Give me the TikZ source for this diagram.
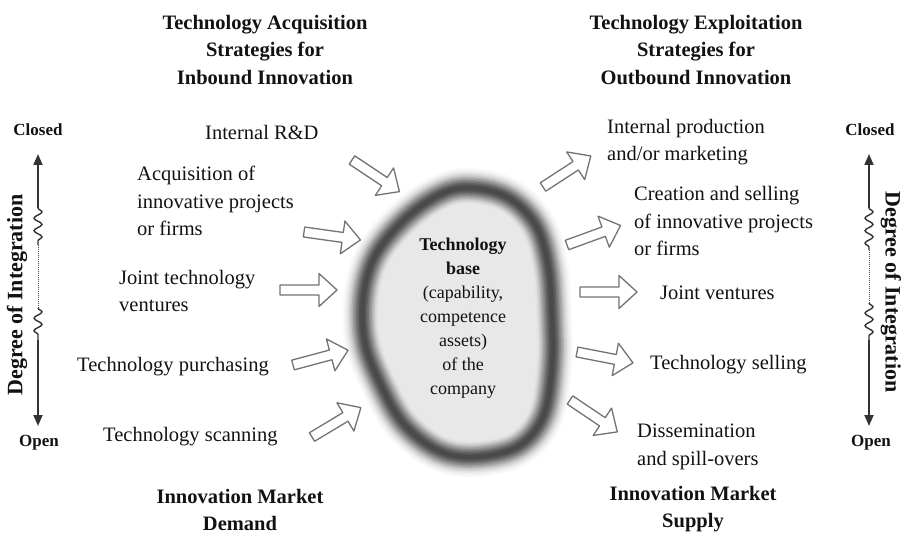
\documentclass[tikz,border=0pt]{standalone}
\usepackage{fontspec}
\setmainfont{Liberation Serif}
\usetikzlibrary{arrows.meta,decorations.pathmorphing}
\tikzset{
  body/.style={font=\fontsize{20.5pt}{27.5pt}\selectfont, inner sep=0pt, text=black!93},
  head/.style={font=\fontsize{20.5pt}{27.5pt}\selectfont\bfseries, inner sep=0pt, align=center, text=black!93},
  endlab/.style={font=\fontsize{17pt}{20pt}\selectfont\bfseries, inner sep=0pt, text=black!93},
  degree/.style={font=\fontsize{22pt}{24pt}\selectfont\bfseries, inner sep=0pt, text=black!93},
  core/.style={font=\fontsize{18pt}{24pt}\selectfont, inner sep=0pt, align=center, text=black!93},
  axisline/.style={draw=black!80, line width=1.8pt},
  wiggle/.style={axisline, line width=1.4pt, decorate, decoration={snake, amplitude=4pt, segment length=12.5pt}},
  dots/.style={draw=black!70, line width=1pt, densely dotted},
  tip/.style={-{Triangle[width=9pt,length=11pt]}},
  arrowline/.style={draw=black!55, fill=white, line width=1.3pt, line join=round},
  pics/blockarrow/.style={code={
    \draw[arrowline] (0,-5) -- (39,-5) -- (39,-16.5) -- (57,0) -- (39,16.5) -- (39,5) -- (0,5) -- cycle;}}
}
\begin{document}
\begin{tikzpicture}[x=1pt,y=-1pt]
\useasboundingbox (0,0) rectangle (904,537);
\fill[white] (0,0) rectangle (904,537);

% technology base blob
\def\blobpath{plot[smooth cycle, tension=0.6] coordinates {(463,188) (505,196) (535,224) (548,265) (552,317) (552,367) (543,417) (517,447) (473,457) (437,450) (403,423) (380,383) (365,343) (363,300) (373,260) (397,227) (430,200)}}
\foreach \w/\c in {40/2,37/4,34/7}{
  \draw[black!\c, line width=\w pt] \blobpath;
}
\fill[black!9] \blobpath;
\foreach \w/\c in {31/11,28/16,25/22,22/30,19/38,16/46,13/54,10/61,7/67,4/71}{
  \draw[black!\c, line width=\w pt] \blobpath;
}
\node[core] (base) at (463,318) {\textbf{Technology}\\\textbf{base}\\(capability,\\competence\\assets)\\of the\\company};

% headers
\node[head] (hin) at (265,50) {Technology Acquisition\\Strategies for\\Inbound Innovation};
\node[head] (hout) at (696,50) {Technology Exploitation\\Strategies for\\Outbound Innovation};
\node[head] (hdem) at (240,510) {Innovation Market\\Demand};
\node[head] (hsup) at (693,509) {Innovation Market\\Supply};

% inbound strategies
\node[body, anchor=west] (in1) at (205,132) {Internal R\&D};
\node[body, anchor=west, align=left] (in2) at (137,201) {Acquisition of\\innovative projects\\or firms};
\node[body, anchor=west, align=left] (in3) at (119,291) {Joint technology\\ventures};
\node[body, anchor=west] (in4) at (77,367) {Technology purchasing};
\node[body, anchor=west] (in5) at (103,437) {Technology scanning};

% outbound strategies
\node[body, anchor=west, align=left] (out1) at (607,142) {Internal production\\and/or marketing};
\node[body, anchor=west, align=left] (out2) at (634,221) {Creation and selling\\of innovative projects\\or firms};
\node[body, anchor=west] (out3) at (660,293) {Joint ventures};
\node[body, anchor=west] (out4) at (650,365) {Technology selling};
\node[body, anchor=west, align=left] (out5) at (637,447) {Dissemination\\and spill-overs};

% block arrows
\pic[rotate=-33.7] at (352,160) {blockarrow};
\pic[rotate=-8] at (304,232) {blockarrow};
\pic at (280,290) {blockarrow};
\pic[rotate=15] at (293,365) {blockarrow};
\pic[rotate=31] at (312,437) {blockarrow};
\pic[rotate=33] at (543,187) {blockarrow};
\pic[rotate=20] at (567,245) {blockarrow};
\pic at (580,292) {blockarrow};
\pic[rotate=-11] at (577,352) {blockarrow};
\pic[rotate=-34] at (570,400) {blockarrow};

% left axis
\node[endlab] (lclosed) at (38,130) {Closed};
\node[endlab] (lopen) at (39,443) {Open};
\node[degree, rotate=90] (ldeg) at (17,295) {Degree of Integration};
\coordinate (la1) at (38,208);
\coordinate (la2) at (38,245);
\coordinate (la3) at (38,308);
\coordinate (la4) at (38,340);
\draw[axisline, tip] (la1) -- (38,154);
\draw[wiggle] (la1) -- (la2);
\draw[dots] (la2) -- (la3);
\draw[wiggle] (la3) -- (la4);
\draw[axisline, tip] (la4) -- (38,426);

% right axis
\node[endlab] (rclosed) at (870,130) {Closed};
\node[endlab] (ropen) at (871,443) {Open};
\node[degree, rotate=-90] (rdeg) at (891,292) {Degree of Integration};
\coordinate (ra1) at (869,208);
\coordinate (ra2) at (869,250);
\coordinate (ra3) at (869,303);
\coordinate (ra4) at (869,340);
\draw[axisline, tip] (ra1) -- (869,154);
\draw[wiggle] (ra1) -- (ra2);
\draw[dots] (ra2) -- (ra3);
\draw[wiggle] (ra3) -- (ra4);
\draw[axisline, tip] (ra4) -- (869,426);
\end{tikzpicture}
\end{document}
